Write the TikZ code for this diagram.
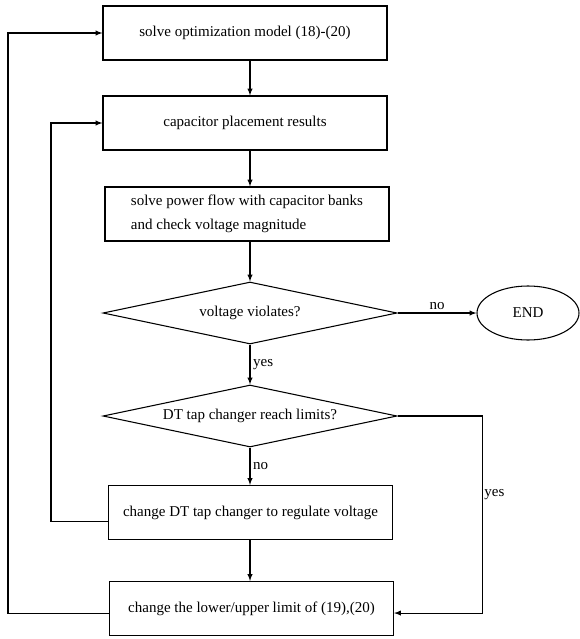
\documentclass[tikz,border=0pt]{standalone}
\usepackage{fontspec}
\setmainfont{Liberation Serif}
\usetikzlibrary{
    arrows,
    shapes
}

\begin{document}
\begin{tikzpicture}[x=0.75pt, y=-0.75pt, line width=0.8pt,
    font=\fontsize{11.25}{13.5}\selectfont,
    box/.style={draw, rectangle, minimum width=213pt, minimum height=40.5pt, inner sep=2pt},
    check/.style={draw, diamond, aspect=4.7, minimum width=220.5pt, minimum height=46.5pt, inner sep=0pt},
    stop/.style={draw, ellipse, minimum width=76.5pt, minimum height=40.5pt, inner sep=0pt}]
    \useasboundingbox (0, 0) rectangle (580, 639);
    \node[box] (b1) at (245, 33) {solve optimization model (18)-(20)};
    \node[box] (b2) at (245, 123) {capacitor placement results};
    \node[box, align=left] (b3) at (247, 214) {solve power flow with capacitor banks\\[4pt]and check voltage magnitude};
    \node[check] (d1) at (250, 313) {voltage violates?};
    \node[stop] (end) at (528, 313) {END};
    \node[check] (d2) at (250, 416) {DT tap changer reach limits?};
    \node[box] (b4) at (250.5, 512.5) {change DT tap changer to regulate voltage};
    \node[box] (b5) at (251.5, 608.5) {change the lower/upper limit of (19),(20)};
    \draw[-latex] (b1.south -| d1.north) -- (b2.north -| d1.north);
    \draw[-latex] (b2.south -| d1.north) -- (b3.north -| d1.north);
    \draw[-latex] (b3.south -| d1.north) -- (d1.north);
    \draw[-latex] (d1.east) -- node[above, inner sep=2pt] (lno1) {no} (end.west);
    \draw[-latex] (d1.south) -- node[right, inner sep=2pt] (lyes1) {yes} (d2.north);
    \draw[-latex] (d2.south) -- node[right, inner sep=2pt] (lno2) {no} (b4.north -| d2.south);
    \draw[-latex] (b4.south -| d2.south) -- (b5.north -| d2.south);
    \draw[-latex] (d2.east) -- ++(85, 0) |- node[pos=0.2, anchor=west, inner sep=1pt] (lyes2) {yes} ([yshift=-3.4pt]b5.east);
    \draw[-latex] ([yshift=-7pt]b4.west) -- ++(-57, 0) |- (b2.west);
    \draw[-latex] ([yshift=-3.4pt]b5.west) -- ++(-101, 0) |- (b1.west);
\end{tikzpicture}
\end{document}
